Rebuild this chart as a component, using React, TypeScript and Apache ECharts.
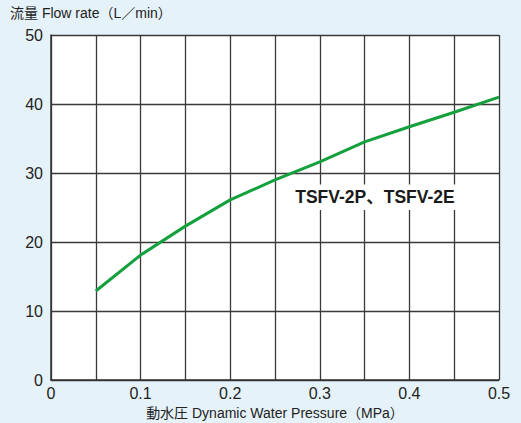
import React, { useEffect, useRef } from "react";
import * as echarts from "echarts";

const pressure = [0.05, 0.1, 0.15, 0.2, 0.25, 0.3, 0.35, 0.4, 0.45, 0.5];
const flowRate = [12.9, 18.1, 22.3, 26.1, 29.0, 31.6, 34.5, 36.7, 38.8, 41.0];
const xTicks = [0, 0.1, 0.2, 0.3, 0.4, 0.5];
const seriesLabel = "TSFV-2P、TSFV-2E";
const yTitle = "流量 Flow rate（L／min）";
const xTitle = "動水圧 Dynamic Water Pressure（MPa）";

export default function App() {
  const ref = useRef<HTMLDivElement>(null);
  useEffect(() => {
    const chart = echarts.init(ref.current!, null, { renderer: "svg" });
    const font = "'Liberation Sans', Arial, 'Noto Sans CJK JP', sans-serif";
    chart.setOption({
      animation: false,
      backgroundColor: "#e6f2f9",
      textStyle: { fontFamily: font },
      grid: {
        left: 51,
        right: 22,
        top: 35,
        bottom: 43,
        show: true,
        backgroundColor: "#ffffff",
        borderWidth: 0,
        containLabel: false,
        outerBoundsMode: "none",
      },
      xAxis: {
        type: "value",
        min: 0,
        max: 0.5,
        interval: 0.05,
        axisLine: { show: true, lineStyle: { color: "#333", width: 1.5 } },
        axisTick: { show: false },
        splitLine: { show: true, lineStyle: { color: "#3a3a3a", width: 1.3 } },
        axisLabel: {
          color: "#222",
          fontSize: 16,
          fontFamily: font,
          margin: 5,
          formatter: (v: number) => {
            const r = Math.round(v * 100) / 100;
            return xTicks.some((t) => Math.abs(t - r) < 1e-9) ? String(r) : "";
          },
        },
        name: xTitle,
        nameLocation: "middle",
        nameGap: 26,
        nameTextStyle: { color: "#222", fontSize: 14, fontFamily: font },
      },
      yAxis: {
        type: "value",
        min: 0,
        max: 50,
        interval: 10,
        axisLine: { show: true, lineStyle: { color: "#333", width: 1.5 } },
        axisTick: { show: false },
        splitLine: { show: true, lineStyle: { color: "#3a3a3a", width: 1.3 } },
        axisLabel: { color: "#222", fontSize: 16, fontFamily: font, margin: 8 },
      },
      graphic: [
        {
          type: "text",
          left: 10,
          top: 6,
          style: { text: yTitle, fill: "#222", font: `14px ${font}` },
        },
      ],
      series: [
        {
          type: "line",
          data: pressure.map((p, i) => [p, flowRate[i]]),
          symbol: "none",
          smooth: false,
          lineStyle: { color: "#14a03c", width: 3 },
          markPoint: {
            symbol: "rect",
            symbolSize: 0,
            data: [{ coord: [0.3616, 26.5] }],
            label: {
              show: true,
              formatter: seriesLabel,
              color: "#1a1a1a",
              fontSize: 17.5,
              fontWeight: "bold",
              fontFamily: font,
              backgroundColor: "#ffffff",
              padding: [4, 3],
            },
          },
        },
      ],
    });
    return () => chart.dispose();
  }, []);
  return <div ref={ref} style={{ width: 521, height: 423, position: "absolute", left: 0, top: 0 }} />;
}
